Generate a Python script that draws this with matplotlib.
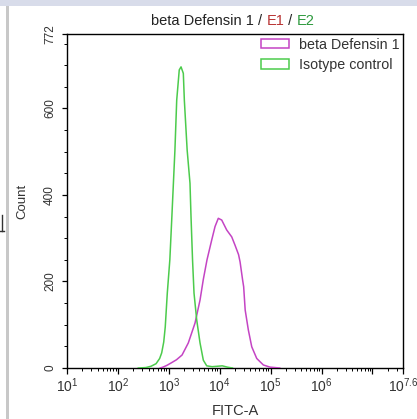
import numpy as np
import matplotlib
matplotlib.use('Agg')
import matplotlib.pyplot as plt
from matplotlib.patches import Patch, Rectangle
from matplotlib.lines import Line2D
from matplotlib.ticker import FixedLocator

# ---- data (log10 of FITC-A intensity, counts) ----
isotype_log = [2.40, 2.55, 2.65, 2.75, 2.82, 2.86, 2.90, 2.93, 2.97, 3.02, 3.06, 3.09,
               3.12, 3.155, 3.205, 3.24, 3.285, 3.305, 3.36, 3.416, 3.436, 3.466, 3.495,
               3.548, 3.613, 3.678, 3.745, 3.85, 3.95, 4.05, 4.15, 4.25]
isotype_count = [0, 1, 4, 10, 22, 35, 60, 95, 173, 250, 350, 427,
                 504, 619, 689, 696, 681, 619, 504, 427, 350, 250, 173,
                 111, 58, 18, 5, 3, 4, 5, 2, 0]

defensin_log = [2.83, 2.886, 2.96, 3.05, 3.15, 3.26, 3.383, 3.515, 3.613, 3.678, 3.75, 3.843,
                3.908, 3.972, 4.039, 4.137, 4.236, 4.30, 4.37, 4.40, 4.45, 4.47, 4.50,
                4.562, 4.629, 4.727, 4.857, 4.988, 5.18]
defensin_count = [0, 2, 6, 12, 19, 30, 58, 104, 157, 205, 250, 296,
                  327, 346, 342, 319, 303, 284, 262, 245, 203, 188, 134,
                  88, 49, 22, 7, 2, 0]

x_tick_exps = [1, 2, 3, 4, 5, 6, 7, 7.6]
x_tick_labels = [r'$\mathregular{10^{1}}$', r'$\mathregular{10^{2}}$', r'$\mathregular{10^{3}}$',
                 r'$\mathregular{10^{4}}$', r'$\mathregular{10^{5}}$', r'$\mathregular{10^{6}}$',
                 '', r'$\mathregular{10^{7.6}}$']
y_ticks = [0, 200, 400, 600, 772]
y_tick_labels = ['0', '200', '400', '600', '772']
legend_labels = ['beta Defensin 1', 'Isotype control']
title_parts = ['beta Defensin 1 / ', 'E1', ' / ', 'E2']
title_colors = ['#222222', '#b83232', '#222222', '#2e9a3e']

MAG = '#c444c4'
GRN = '#4ccb4c'

plt.rcParams['font.family'] = ['Liberation Sans', 'DejaVu Sans']
plt.rcParams['mathtext.fontset'] = 'custom'
plt.rcParams['mathtext.rm'] = 'Liberation Sans'
plt.rcParams['mathtext.it'] = 'Liberation Sans'

W, H = 417, 419
fig = plt.figure(figsize=(W / 100, H / 100), dpi=100)
fig.patch.set_facecolor('white')

# window frame decorations
fig.patches.append(Rectangle((0, 1 - 6 / H), 1, 6 / H, transform=fig.transFigure,
                             facecolor='#d8dcea', edgecolor='none', zorder=0))
fig.patches.append(Rectangle((6 / W, 0), 2.5 / W, 1 - 6 / H, transform=fig.transFigure,
                             facecolor='#c8c8c8', edgecolor='none', zorder=0))
fig.lines.append(Line2D([2 / W, 2 / W], [1 - 215 / H, 1 - 231 / H], transform=fig.transFigure,
                        color='#333333', lw=1.0))
fig.lines.append(Line2D([0, 4 / W], [1 - 231 / H, 1 - 231 / H], transform=fig.transFigure,
                        color='#333333', lw=1.0))

ax = fig.add_axes([67 / W, 1 - 368 / H, 336 / W, 334 / H])
ax.set_xscale('log')
ax.plot(10 ** np.array(defensin_log), defensin_count, color=MAG, lw=1.1, zorder=3)
ax.plot(10 ** np.array(isotype_log), isotype_count, color=GRN, lw=1.1, zorder=3)
ax.set_xlim(10 ** 1, 10 ** 7.6)
ax.set_ylim(0, 772)

ax.xaxis.set_major_locator(FixedLocator([10 ** e for e in x_tick_exps]))
ax.set_xticklabels(x_tick_labels)
minors = [m * 10 ** d for d in range(1, 8) for m in range(2, 10) if m * 10 ** d < 10 ** 7.6]
ax.xaxis.set_minor_locator(FixedLocator(minors))
ax.yaxis.set_major_locator(FixedLocator(y_ticks))
ax.set_yticklabels(y_tick_labels, rotation=90, va='center')
ax.yaxis.set_minor_locator(FixedLocator(list(range(50, 772, 50))))

for s in ax.spines.values():
    s.set_linewidth(1.0)
    s.set_color('black')
ax.tick_params(axis='x', which='major', length=4.5, width=0.9, labelsize=10, pad=1.5)
ax.tick_params(axis='x', which='minor', length=2.2, width=0.7)
ax.tick_params(axis='y', which='major', length=3.8, width=0.9, labelsize=8.5, pad=4.0)
ax.tick_params(axis='y', which='minor', length=2.2, width=0.7)
for lab in ax.get_xticklabels() + ax.get_yticklabels():
    lab.set_color('#333333')

ax.set_xlabel('FITC-A', fontsize=10.5, color='#333333')
ax.xaxis.set_label_coords(0.5, (368 - 410.5) / 334)
ax.xaxis.label.set_va('center')
ax.set_ylabel('Count', fontsize=9.5, color='#333333')
ax.yaxis.set_label_coords((22 - 67) / 336, 0.5)
ax.yaxis.label.set_va('center')

handles = [Patch(facecolor='none', edgecolor=MAG, lw=1.1),
           Patch(facecolor='none', edgecolor=GRN, lw=1.1)]
leg = ax.legend(handles, legend_labels, loc='upper right', bbox_to_anchor=(1.0, 1.0),
                frameon=False, fontsize=10.3, borderaxespad=0.0, borderpad=0.25,
                handlelength=1.95, handleheight=0.65, handletextpad=0.7, labelspacing=0.45)
for t in leg.get_texts():
    t.set_color('#333333')

# multi-coloured title, centred
fig.canvas.draw()
r = fig.canvas.get_renderer()
texts = []
for p, c in zip(title_parts, title_colors):
    texts.append(fig.text(0, 1 - 21 / H, p, color=c, fontsize=10.5, va='center', ha='left'))
widths = [t.get_window_extent(r).width for t in texts]
total = sum(widths)
x0 = 233 - total / 2
for t, w in zip(texts, widths):
    t.set_x(x0 / W)
    x0 += w

fig.savefig('out.png', dpi=100)
